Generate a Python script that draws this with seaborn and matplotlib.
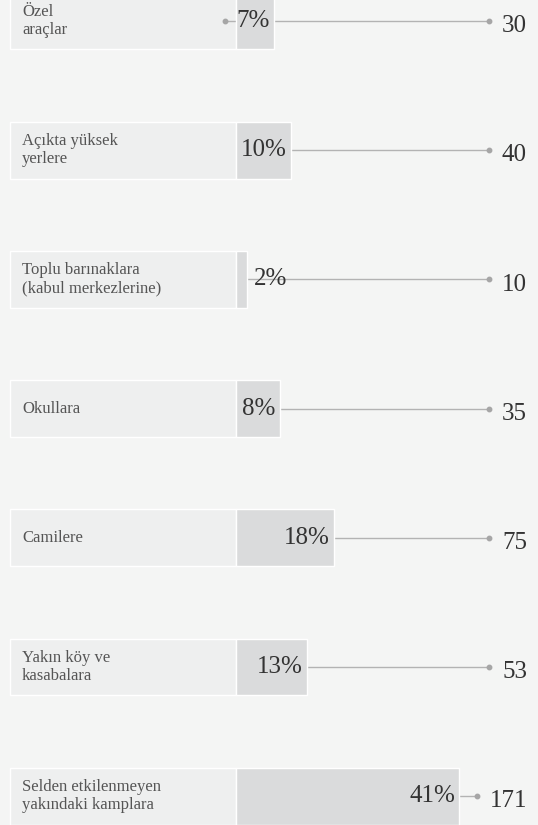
import matplotlib
matplotlib.use("Agg")
import matplotlib.pyplot as plt
import seaborn as sns

# data
labels = [
    "Özel\naraçlar",
    "Açıkta yüksek\nyerlere",
    "Toplu barınaklara\n(kabul merkezlerine)",
    "Okullara",
    "Camilere",
    "Yakın köy ve\nkasabalara",
    "Selden etkilenmeyen\nyakındaki kamplara",
]
pct = [7, 10, 2, 8, 18, 13, 41]
counts = [30, 40, 10, 35, 75, 53, 171]

BG = "#f4f5f4"
PANEL = "#eeefef"
BAR = "#dadbdc"
LINE = "#b3b3b3"
DOT = "#a6a6a6"
TXT = "#333333"
LBL = "#555555"

W, H = 538, 825
PX = 5.45         # pixels per percent
X0 = 236          # pixel where bars start

sns.set_style("white")
plt.rcParams["font.family"] = ["Liberation Serif", "DejaVu Serif"]

fig = plt.figure(figsize=(W / 100, H / 100), dpi=100, facecolor=BG)
ax = fig.add_axes([0, 0, 1, 1])
ax.set_facecolor(BG)


def px(v):
    """pixel x -> data x"""
    return (v - X0) / PX


rows = list(range(len(labels)))
bar_h = 0.44

# light label panels
panel_left = px(10)
ax.barh(rows, -panel_left, left=panel_left, height=bar_h, color=PANEL, zorder=0.5)

sns.barplot(x=pct, y=labels, orient="h", color=BAR, width=bar_h,
            saturation=1, ax=ax, zorder=2)

for i, lab in enumerate(labels):
    ax.text(px(22), i, lab, ha="left", va="center", fontsize=12,
            color=LBL, zorder=3, linespacing=1.15)

ax.set_xlim(px(0), px(W))
ax.set_ylim((H - 21) / 129.2, -21 / 129.2)
ax.axis("off")

fig.canvas.draw()
rend = fig.canvas.get_renderer()

for i, (p, n) in enumerate(zip(pct, counts)):
    # count on the right, dot just before it
    t = ax.text(px(527), i + 0.04, str(n), ha="right", va="center",
                fontsize=18, color=TXT, zorder=3)
    left_px = t.get_window_extent(renderer=rend).x0
    dot_x = px(left_px - 13)

    start = px(225) if i == 0 else p
    ax.plot([start, dot_x], [i, i], color=LINE, lw=1.0, zorder=1)
    ax.plot([dot_x], [i], "o", color=DOT, ms=3.2, zorder=1)
    if i == 0:
        ax.plot([start], [i], "o", color=DOT, ms=3.2, zorder=1)

    # percentage: inside the bar if there is room, otherwise just after it
    pt = ax.text(p - 4 / PX, i, f"{p}%", ha="right", va="center",
                 fontsize=18, color=TXT, zorder=3)
    w = pt.get_window_extent(renderer=rend).width
    if w + 3 > p * PX:
        pt.set_position((p + 7 / PX, i))
        pt.set_ha("left")

fig.savefig("out.png", dpi=100, facecolor=BG)
